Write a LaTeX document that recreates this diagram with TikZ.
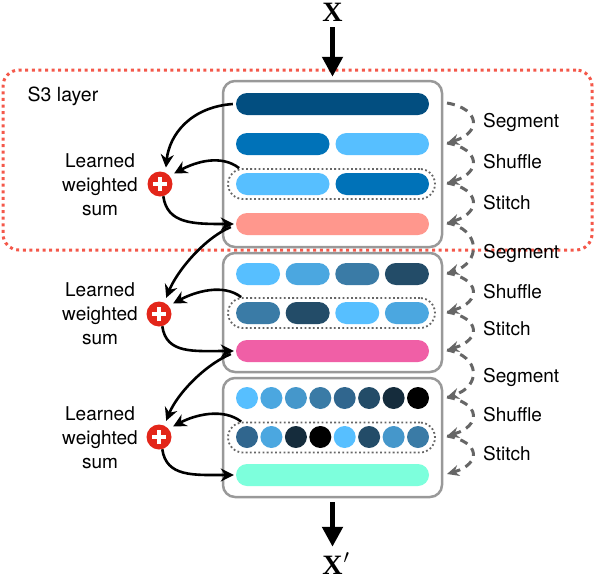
\RequirePackage{fix-cm}
\documentclass[tikz,border=0pt]{standalone}
\usepackage{fontspec}
\setmainfont{TeX Gyre Heros}
\newfontfamily\xfont{Liberation Serif}
\usetikzlibrary{arrows.meta}
\definecolor{boxgray}{HTML}{999999}
\definecolor{dotgray}{HTML}{666666}
\definecolor{arrgray}{HTML}{666666}
\definecolor{redline}{HTML}{F4584A}
\definecolor{plusred}{HTML}{E3261A}
\definecolor{cA}{HTML}{024E80}
\definecolor{cB}{HTML}{0072B8}
\definecolor{cC}{HTML}{57BFFF}
\definecolor{cD}{HTML}{4BA7E0}
\definecolor{cE}{HTML}{4597CB}
\definecolor{cF}{HTML}{3A7BA6}
\definecolor{cG}{HTML}{30668E}
\definecolor{cH}{HTML}{234C68}
\definecolor{cI}{HTML}{152C3C}
\definecolor{salmon}{HTML}{FF978D}
\definecolor{pinkc}{HTML}{F05FA6}
\definecolor{mint}{HTML}{7DFFDC}
\begin{document}
\begin{tikzpicture}[x=1pt,y=-1pt,
  lbl/.style={font=\fontsize{19}{24}\selectfont, inner sep=0pt, anchor=west},
  wsum/.style={font=\fontsize{19}{24}\selectfont, inner sep=0pt, align=center},
  pill/.style={rounded corners=11pt, minimum height=22pt, inner sep=0pt, fill=#1},
  dot/.style={circle, minimum size=22pt, inner sep=0pt, fill=#1},
  grbox/.style={draw=boxgray, line width=2.5pt, rounded corners=12pt, fill=white, inner sep=0pt},
  grp/.style={draw=dotgray, line width=1.8pt, dash pattern=on 1.8pt off 2.4pt, rounded corners=15pt, minimum width=207pt, minimum height=30pt, inner sep=0pt},
  flow/.style={draw=black, line width=2.6pt, -{Stealth[length=13pt,width=13pt]}},
  op/.style={draw=arrgray, line width=3pt, dash pattern=on 8pt off 6pt, -{Stealth[length=12pt,width=11pt]}},
  big/.style={draw=black, line width=5pt, -{Triangle[length=20pt,width=20pt]}},
  plus/.style={circle, fill=plusred, minimum size=25pt, inner sep=0pt,
    path picture={\draw[white, line width=3.2pt] ([xshift=-7pt]path picture bounding box.center) -- ([xshift=7pt]path picture bounding box.center) ([yshift=-7pt]path picture bounding box.center) -- ([yshift=7pt]path picture bounding box.center);}},
  xl/.style={font=\xfont\bfseries\fontsize{28}{30}\selectfont, inner sep=0pt}
]
\useasboundingbox (0,0) rectangle (600,581);

% S3 layer frame
\node[draw=redline, line width=3pt, dash pattern=on 3pt off 3.6pt, rounded corners=16pt,
  minimum width=589pt, minimum height=180pt, inner sep=0pt] (L) at (297.5,160) {};
\node[font=\fontsize{19.5}{24}\selectfont, inner sep=0pt] (Lt) at (63,96) {S3 layer};

% gray boxes
\node[grbox, minimum width=219pt, minimum height=166pt] (B1) at (332.5,164) {};
\node[grbox, minimum width=219pt, minimum height=119pt] (B2) at (332.5,312.5) {};
\node[grbox, minimum width=219pt, minimum height=119pt] (B3) at (332.5,437.5) {};

% group outlines
\node[grp] (G1) at (331.5,184) {};
\node[grp] (G2) at (331.5,313) {};
\node[grp] (G3) at (331.5,437.5) {};

% box 1 rows
\node[pill=cA, minimum width=193pt] (r1) at (332.5,104) {};
\node[pill=cB, minimum width=93.5pt] (r2a) at (282.75,144) {};
\node[pill=cC, minimum width=93.5pt] (r2b) at (382.25,144) {};
\node[pill=cC, minimum width=93.5pt] (r3a) at (282.75,184) {};
\node[pill=cB, minimum width=93.5pt] (r3b) at (382.25,184) {};
\node[pill=salmon, minimum width=193pt] (r4) at (332.5,224) {};

% box 2 rows
\node[pill=cC, minimum width=44pt] (s1a) at (258.05,274) {};
\node[pill=cD, minimum width=44pt] (s1b) at (307.65,274) {};
\node[pill=cF, minimum width=44pt] (s1c) at (357.25,274) {};
\node[pill=cH, minimum width=44pt] (s1d) at (406.9,274) {};
\node[pill=cF, minimum width=44pt] (s2a) at (258.05,313) {};
\node[pill=cH, minimum width=44pt] (s2b) at (307.65,313) {};
\node[pill=cC, minimum width=44pt] (s2c) at (357.25,313) {};
\node[pill=cD, minimum width=44pt] (s2d) at (406.9,313) {};
\node[pill=pinkc, minimum width=193pt] (s3) at (332.5,351) {};

% box 3 rows
\node[dot=cC] (t1a) at (247,398) {};
\node[dot=cD] (t1b) at (271.4,398) {};
\node[dot=cE] (t1c) at (295.9,398) {};
\node[dot=cF] (t1d) at (320.3,398) {};
\node[dot=cG] (t1e) at (344.7,398) {};
\node[dot=cH] (t1f) at (369.1,398) {};
\node[dot=cI] (t1g) at (393.6,398) {};
\node[dot=black] (t1h) at (418,398) {};
\node[dot=cG] (t2a) at (247,437) {};
\node[dot=cD] (t2b) at (271.4,437) {};
\node[dot=cI] (t2c) at (295.9,437) {};
\node[dot=black] (t2d) at (320.3,437) {};
\node[dot=cC] (t2e) at (344.7,437) {};
\node[dot=cH] (t2f) at (369.1,437) {};
\node[dot=cE] (t2g) at (393.6,437) {};
\node[dot=cF] (t2h) at (418,437) {};
\node[pill=mint, minimum width=193pt] (t3) at (332.5,475) {};

% input / output
\node[xl] (X) at (332.5,12) {X};
\node[xl] (Xp) at (332.5,563.5) {X\rlap{\kern1pt$^{\prime}$}};
\draw[big, shorten <=6pt, shorten >=3pt] (X) -- (B1);
\draw[big, shorten <=4pt, shorten >=6pt] (B3) -- (Xp);

% weighted sums
\node[wsum] (w1) at (100,185) {Learned\\weighted\\sum};
\node[wsum] (w2) at (100,314) {Learned\\weighted\\sum};
\node[wsum] (w3) at (100,438) {Learned\\weighted\\sum};
\node[plus] (c1) at (160,184) {};
\node[plus] (c2) at (159,314) {};
\node[plus] (c3) at (159,437) {};

\draw[flow, shorten >=5pt] ([xshift=-3pt]r1.west) .. controls +(-42,3) and +(4,-38) .. (c1.65);
\draw[flow, shorten >=5pt] ([xshift=12pt]G1.north west) .. controls +(-18,-14) and +(26,-14) .. (c1.40);
\draw[flow, shorten >=2pt] (c1.-75) .. controls +(4,28) and +(-42,0) .. (r4.west);

\draw[flow, shorten >=5pt] ([xshift=-5pt,yshift=-3pt]r4.west) .. controls +(-28,12) and +(12,-30) .. (c2.65);
\draw[flow, shorten >=5pt] ([xshift=14pt]G2.north west) .. controls +(-18,-14) and +(26,-14) .. (c2.40);
\draw[flow, shorten >=2pt] (c2.-75) .. controls +(4,28) and +(-42,0) .. (s3.west);

\draw[flow, shorten >=5pt] ([xshift=-5pt,yshift=-3pt]s3.west) .. controls +(-28,12) and +(12,-30) .. (c3.65);
\draw[flow, shorten >=5pt] ([xshift=14pt]G3.north west) .. controls +(-18,-14) and +(26,-14) .. (c3.40);
\draw[flow, shorten >=2pt] (c3.-75) .. controls +(4,28) and +(-42,0) .. (t3.west);

% operation arrows
\coordinate (p1) at (447,103);
\coordinate (p2) at (447,143);
\coordinate (p3) at (447,183);
\coordinate (p4) at (447,223);
\coordinate (p5) at (447,273);
\coordinate (p6) at (447,312);
\coordinate (p7) at (447,350);
\coordinate (p8) at (447,397);
\coordinate (p9) at (447,436);
\coordinate (p10) at (447,474);
\foreach \a/\b in {p1/p2,p2/p3,p3/p4,p4/p5,p5/p6,p6/p7,p7/p8,p8/p9,p9/p10}{
  \draw[op] (\a) .. controls +(34,6) and +(34,-10) .. (\b);
}
\node[lbl] (o1) at (483,122) {Segment};
\node[lbl] (o2) at (483,162) {Shuffle};
\node[lbl] (o3) at (483,203) {Stitch};
\node[lbl] (o4) at (483,253) {Segment};
\node[lbl] (o5) at (483,292) {Shuffle};
\node[lbl] (o6) at (483,329) {Stitch};
\node[lbl] (o7) at (483,377) {Segment};
\node[lbl] (o8) at (483,415) {Shuffle};
\node[lbl] (o9) at (483,454) {Stitch};
\end{tikzpicture}
\end{document}
